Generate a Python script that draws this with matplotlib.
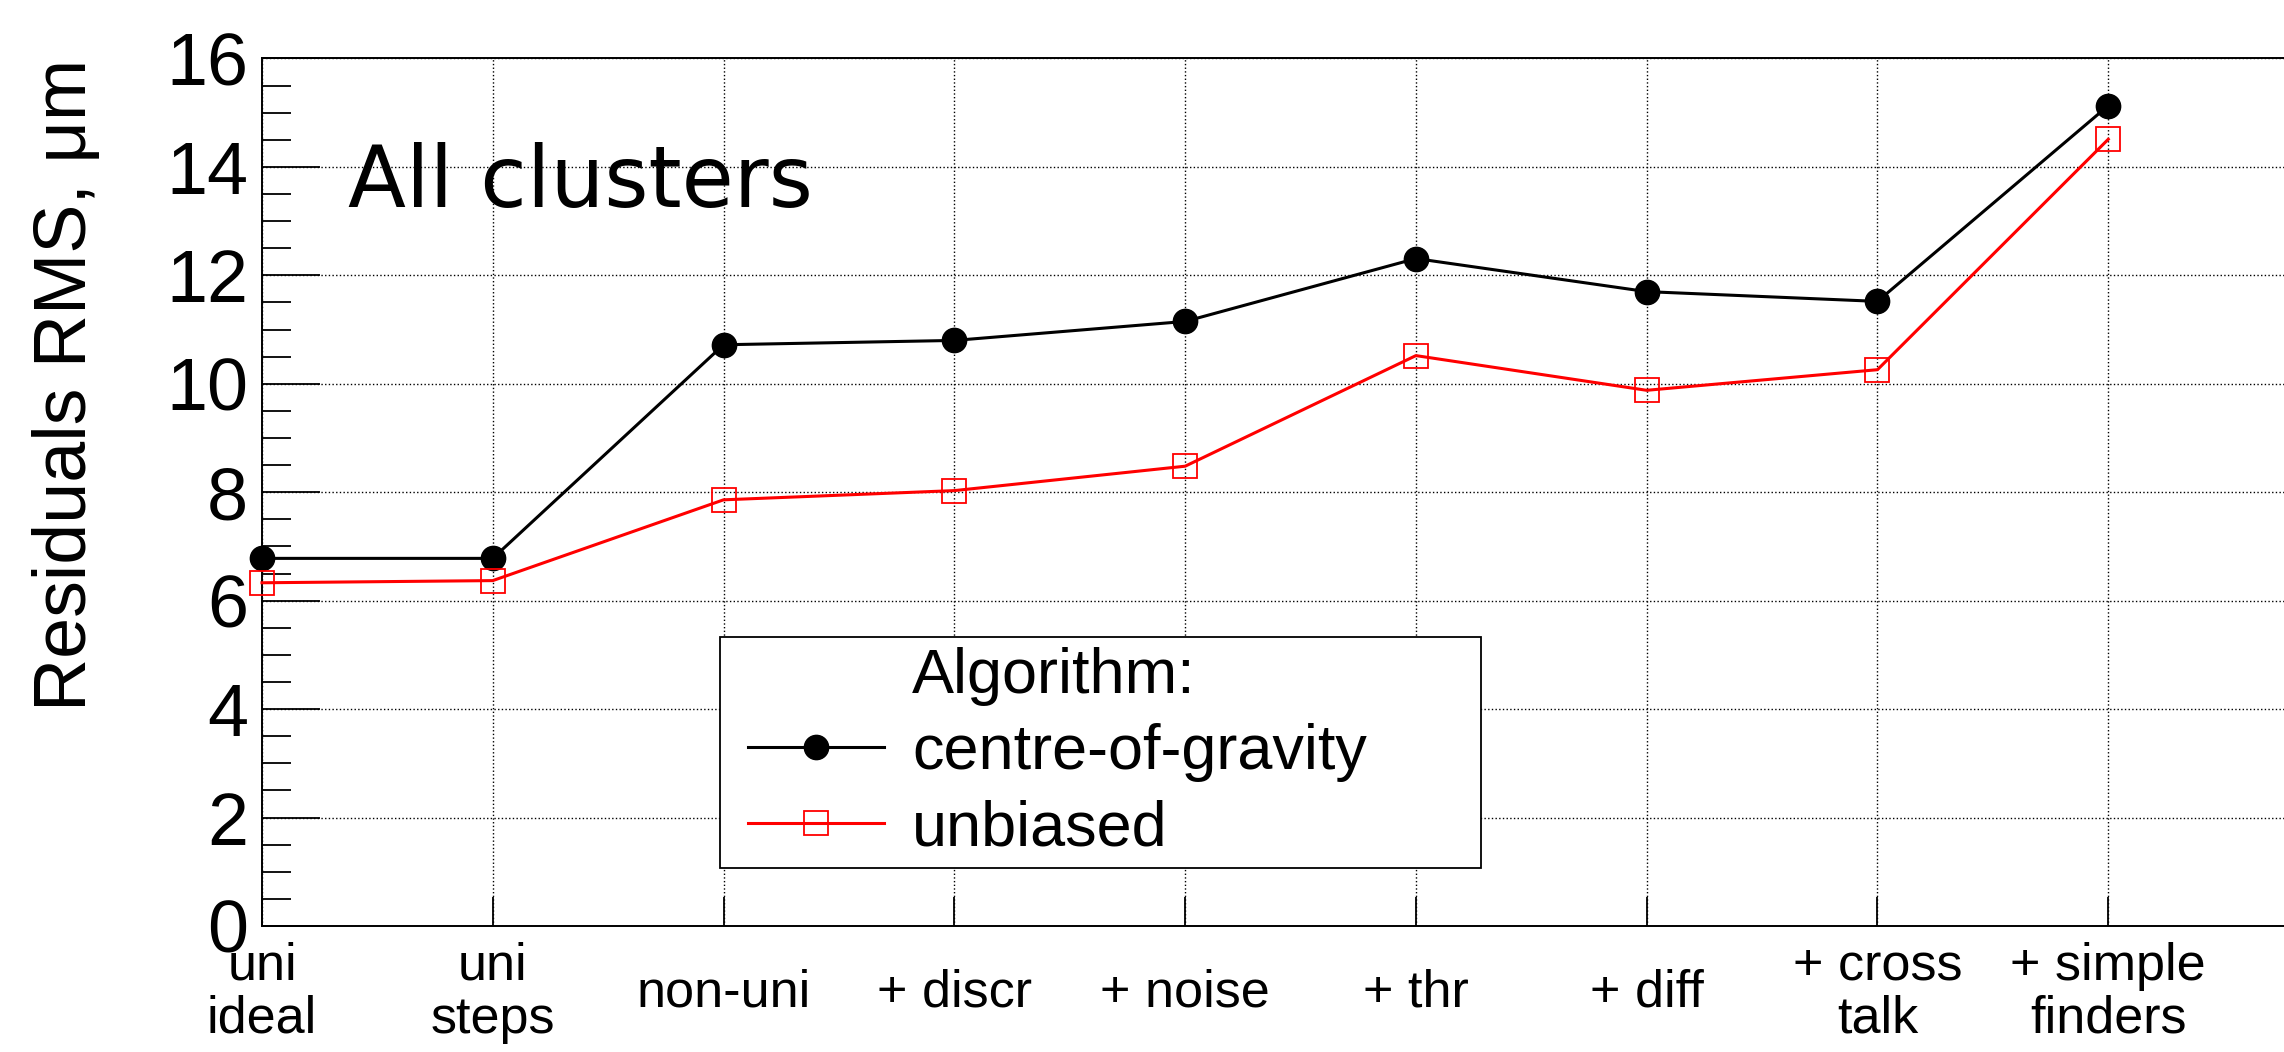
import numpy as np
import matplotlib.pyplot as plt
from matplotlib.lines import Line2D
from matplotlib.patches import Rectangle

# simulation steps along x, RMS of residuals in um
steps = ['uni\nideal', 'uni\nsteps', 'non-uni', '+ discr', '+ noise',
         '+ thr', '+ diff', '+ cross\ntalk', '+ simple\nfinders']
rms_cog = [6.78, 6.78, 10.72, 10.80, 11.15, 12.31, 11.70, 11.52, 15.13]
rms_unbiased = [6.33, 6.37, 7.86, 8.03, 8.48, 10.52, 9.88, 10.26, 14.51]

plt.rcParams['font.family'] = ['Liberation Sans', 'DejaVu Sans']

fig = plt.figure(figsize=(22.84, 10.52), dpi=100)
ax = fig.add_axes([0.1147, 0.1198, 0.9094, 0.8246])
x = np.arange(len(steps))

l_cog, = ax.plot(x, rms_cog, color='black', lw=2.2, marker='o', ms=17.5,
                 clip_on=False, zorder=3)
l_unb, = ax.plot(x, rms_unbiased, color='red', lw=2.2, marker='s', ms=17,
                 mfc='none', mec='red', mew=1.3, clip_on=False, zorder=4)

ax.set_xlim(0, 9)
ax.set_ylim(0, 16)
ax.set_xticks(x, steps)
ax.set_yticks(np.arange(0, 17, 2))
ax.set_yticks(np.arange(0, 16.01, 0.5), minor=True)
ax.tick_params(axis='both', which='both', direction='in', width=1.3,
               top=False, right=False)
ax.tick_params(axis='y', which='major', length=41.8, pad=10, labelsize=53)
ax.tick_params(axis='y', which='minor', length=20.9)
ax.tick_params(axis='x', which='major', length=21, pad=48, labelsize=37.5)
plt.setp(ax.get_xticklabels(), va='center', linespacing=1.1)

ax.grid(True, which='major', color='black', ls=':', lw=1.0)
for s in ax.spines.values():
    s.set_linewidth(1.4)

ax.set_ylabel('Residuals RMS, μm', fontsize=53, loc='top')
ax.yaxis.set_label_coords(-0.0775, 1.0)

ax.text(0.0414, 0.8288, 'All clusters', transform=ax.transAxes, fontsize=61,
        family='DejaVu Sans', ha='left', va='baseline')

# legend box drawn separately so the padding can differ left/top
ax.add_patch(Rectangle((0.2205, 0.0669), 0.3664, 0.2662, transform=ax.transAxes,
                       facecolor='white', edgecolor='black', lw=1.3, zorder=5))
header = Line2D([], [], color='none')
leg = ax.legend([header, l_cog, l_unb], ['Algorithm:', 'centre-of-gravity', 'unbiased'],
                loc='upper left', bbox_to_anchor=(0.2292, 0.3331), borderaxespad=0,
                frameon=False, fontsize=45.4, handlelength=2.16, handletextpad=0.44,
                borderpad=0.16, labelspacing=0.27)
leg.set_zorder(6)

fig.savefig('out.png', dpi=100)
